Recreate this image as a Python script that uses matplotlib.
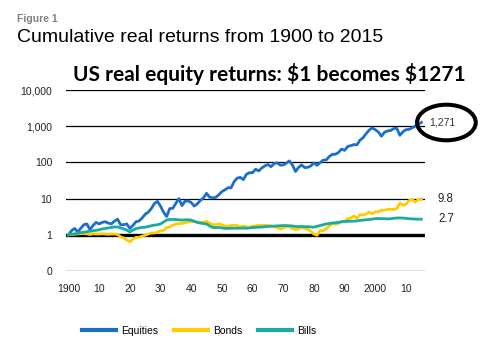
import matplotlib
matplotlib.use("Agg")
import matplotlib.pyplot as plt
from matplotlib.patches import Ellipse
import numpy as np

years = list(range(1900, 2016))

equities = [
    1.0, 1.3, 1.5, 1.2, 1.5, 1.9, 2.0, 1.4, 1.8, 2.2,
    2.0, 2.2, 2.3, 2.1, 2.0, 2.4, 2.7, 1.9, 1.9, 2.0,
    1.5, 1.8, 2.3, 2.4, 2.9, 3.7, 4.2, 5.3, 7.3, 8.4,
    6.2, 4.2, 3.2, 5.3, 5.4, 7.4, 10.0, 6.4, 8.5, 8.6,
    7.8, 6.2, 7.2, 8.9, 10.5, 14.0, 11.0, 10.5, 10.8, 12.8,
    15.5, 17.5, 20.0, 19.8, 29.5, 37.0, 38.5, 33.5, 47.0, 52.0,
    52.0, 65.0, 58.0, 70.0, 80.0, 88.0, 76.0, 92.0, 98.0, 84.0,
    85.0, 95.0, 110.0, 85.0, 56.0, 73.0, 85.0, 72.0, 73.0, 80.0,
    97.0, 83.0, 98.0, 115.0, 117.0, 145.0, 167.0, 168.0, 188.0, 233.0,
    215.0, 275.0, 290.0, 310.0, 305.0, 410.0, 480.0, 620.0, 780.0, 900.0,
    800.0, 690.0, 530.0, 680.0, 740.0, 760.0, 860.0, 880.0, 560.0, 700.0,
    800.0, 820.0, 900.0, 1000.0, 1150.0, 1271.0,
]

bonds = [
    1.0, 1.02, 1.03, 1.05, 1.08, 1.08, 1.06, 1.02, 1.07, 1.05,
    1.05, 1.07, 1.05, 1.03, 1.05, 1.05, 1.02, 0.88, 0.82, 0.72,
    0.64, 0.75, 0.85, 0.85, 0.92, 0.97, 1.05, 1.12, 1.12, 1.18,
    1.28, 1.32, 1.58, 1.65, 1.85, 1.95, 2.05, 2.05, 2.15, 2.25,
    2.35, 2.3, 2.25, 2.2, 2.2, 2.35, 2.1, 1.9, 1.9, 2.0,
    1.9, 1.75, 1.75, 1.8, 1.85, 1.8, 1.65, 1.75, 1.65, 1.6,
    1.75, 1.75, 1.82, 1.8, 1.82, 1.8, 1.78, 1.65, 1.6, 1.45,
    1.55, 1.65, 1.67, 1.5, 1.4, 1.45, 1.6, 1.5, 1.4, 1.25,
    1.05, 0.97, 1.3, 1.3, 1.45, 1.75, 2.05, 1.95, 2.05, 2.35,
    2.4, 2.75, 2.9, 3.3, 2.9, 3.6, 3.5, 3.8, 4.2, 3.8,
    4.3, 4.3, 4.8, 4.8, 5.0, 5.1, 5.0, 5.3, 7.5, 6.5,
    7.0, 8.8, 9.5, 8.0, 9.4, 9.8,
]

bills = [
    1.0, 1.04, 1.06, 1.1, 1.15, 1.18, 1.22, 1.25, 1.3, 1.33,
    1.38, 1.45, 1.5, 1.55, 1.6, 1.65, 1.65, 1.55, 1.45, 1.35,
    1.2, 1.35, 1.48, 1.55, 1.6, 1.62, 1.7, 1.78, 1.85, 1.9,
    2.0, 2.25, 2.55, 2.65, 2.65, 2.65, 2.6, 2.55, 2.6, 2.6,
    2.55, 2.35, 2.2, 2.1, 2.05, 2.0, 1.75, 1.6, 1.58, 1.6,
    1.55, 1.5, 1.5, 1.52, 1.52, 1.52, 1.52, 1.53, 1.52, 1.55,
    1.58, 1.6, 1.62, 1.64, 1.67, 1.7, 1.72, 1.74, 1.76, 1.78,
    1.8, 1.8, 1.78, 1.75, 1.7, 1.68, 1.7, 1.68, 1.67, 1.65,
    1.62, 1.72, 1.8, 1.9, 2.0, 2.05, 2.12, 2.15, 2.2, 2.3,
    2.33, 2.35, 2.37, 2.38, 2.42, 2.5, 2.55, 2.6, 2.65, 2.7,
    2.8, 2.82, 2.8, 2.78, 2.75, 2.78, 2.85, 2.92, 2.92, 2.9,
    2.85, 2.78, 2.75, 2.72, 2.7, 2.7,
]

series_names = ["Equities", "Bonds", "Bills"]
series_colors = ["#1b6fc8", "#ffcc00", "#1aab9f"]
end_labels = ["1,271", "9.8", "2.7"]

y_ticks = [0.1, 1, 10, 100, 1000, 10000]
y_tick_labels = ["0", "1", "10", "100", "1,000", "10,000"]
x_ticks = [1900, 1910, 1920, 1930, 1940, 1950, 1960, 1970, 1980, 1990, 2000, 2010]
x_tick_labels = ["1900", "10", "20", "30", "40", "50", "60", "70", "80", "90", "2000", "10"]

plt.rcParams["font.family"] = ["Liberation Sans", "DejaVu Sans"]

W, H = 502, 357
fig = plt.figure(figsize=(W / 100, H / 100), dpi=100)
ax = fig.add_axes([66 / W, (H - 271) / H, (425 - 66) / W, (271 - 90) / H])

ax.set_yscale("log")
ax.set_ylim(0.1, 10000)
ax.set_xlim(1899.2, 2016.2)

for t in y_ticks:
    if t == 1:
        ax.axhline(t, color="black", lw=2.4, zorder=1)
    else:
        ax.axhline(t, color="black", lw=0.9, zorder=1)

for vals, name, col in zip([equities, bonds, bills], series_names, series_colors):
    ax.plot(years, vals, color=col, lw=2.0, label=name, zorder=3, solid_joinstyle="round")

ax.set_yticks(y_ticks)
ax.set_yticklabels(y_tick_labels)
ax.yaxis.set_minor_locator(matplotlib.ticker.NullLocator())
ax.set_xticks(x_ticks)
ax.set_xticklabels(x_tick_labels)
ax.tick_params(axis="both", length=0, labelsize=7.5, colors="#222222")
ax.tick_params(axis="y", pad=10)
ax.tick_params(axis="x", pad=9)
for s in ax.spines.values():
    s.set_visible(False)

# end-value labels
ax.annotate(end_labels[0], xy=(years[-1], equities[-1]), xytext=(6, 0), textcoords="offset points",
            fontsize=7.5, color="#333333", va="center", ha="left")
ax.annotate(end_labels[1], xy=(years[-1], bonds[-1]), xytext=(12, 0), textcoords="offset points",
            fontsize=8.3, color="#222222", va="center", ha="left")
ax.annotate(end_labels[2], xy=(years[-1], bills[-1]), xytext=(12, 0), textcoords="offset points",
            fontsize=8.3, color="#222222", va="center", ha="left")

# circle around final equity value
ell = Ellipse((446.4 / W, (H - 122.5) / H), 58.7 / W, 35.6 / H, transform=fig.transFigure,
              fill=False, edgecolor="black", lw=2.9)
fig.add_artist(ell)

fig.text(17 / W, 1 - 22 / H, "Figure 1", fontsize=7.5, color="#808080", fontweight="bold",
         ha="left", va="baseline")
fig.text(17 / W, 1 - 42.5 / H, "Cumulative real returns from 1900 to 2015", fontsize=14.0,
         color="black", ha="left", va="baseline")
fig.text(73 / W, 1 - 81 / H, "US real equity returns: \\$1 becomes \\$1271", fontsize=15,
         color="black", fontweight="bold", ha="left", va="baseline", family=["Lato", "DejaVu Sans"])

handles, labels = ax.get_legend_handles_labels()
leg = fig.legend(handles, labels, loc="center", bbox_to_anchor=(199 / W, 26 / H), ncol=3,
                 frameon=False, fontsize=7.5, handlelength=3.3, handletextpad=0.45,
                 columnspacing=1.5, borderaxespad=0)
for line in leg.get_lines():
    line.set_linewidth(3)

fig.savefig("out.png", dpi=100)
